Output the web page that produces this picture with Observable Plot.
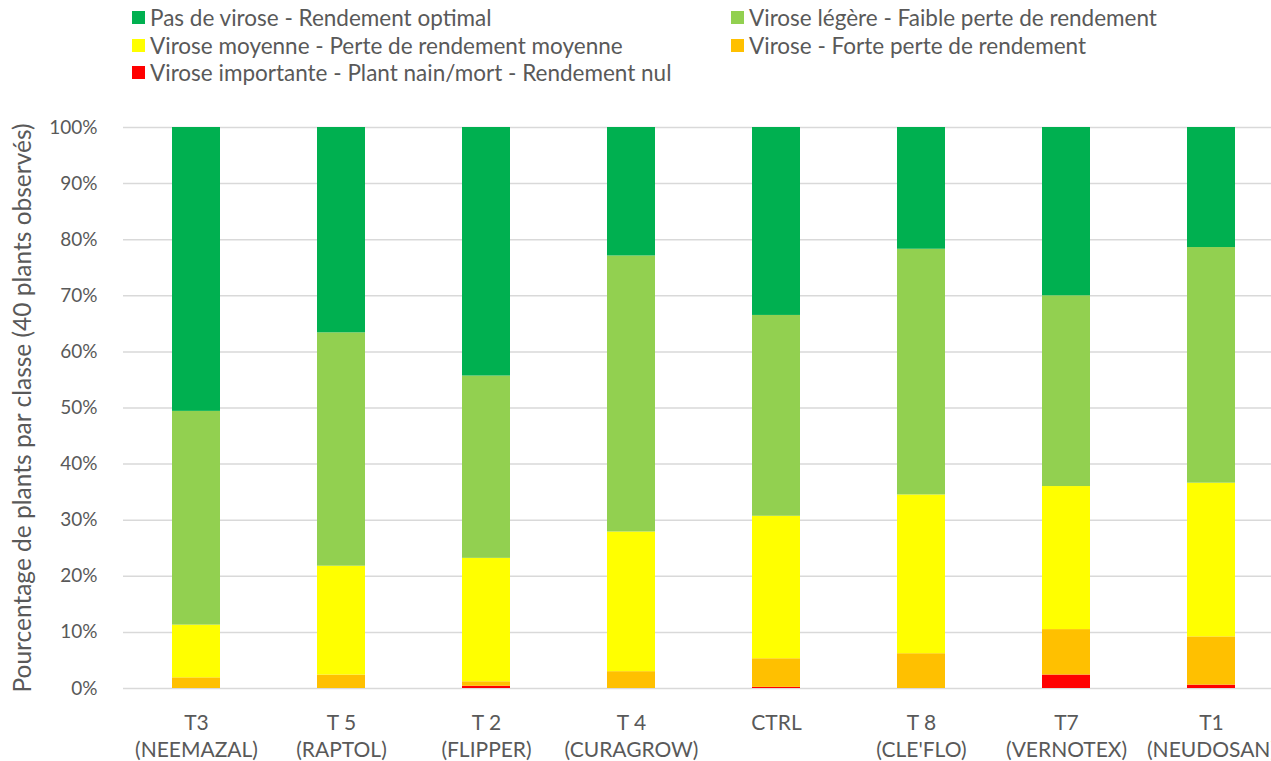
<!DOCTYPE html>
<html>
<head>
<meta charset="utf-8">
<script src="https://cdn.jsdelivr.net/npm/d3@7"></script>
<script src="https://cdn.jsdelivr.net/npm/@observablehq/plot@0.6"></script>
<style>
  html, body { margin: 0; padding: 0; background: #fff; overflow: hidden; width: 1271px; height: 761px; }
  #legend { position: relative; height: 95px; font-family: Lato, "Open Sans", sans-serif; font-size: 22.5px; color: #595959; }
  .item { position: absolute; display: flex; align-items: center; white-space: nowrap; }
  .sw { width: 13px; height: 13px; margin-right: 5px; }
  #chart svg { display: block; font-family: Lato, "Open Sans", sans-serif; overflow: visible; }
</style>
</head>
<body>
<div id="legend"></div>
<div id="chart"></div>
<script>
// Categories (x axis)
const categories = [
  "T3\n(NEEMAZAL)", "T 5\n(RAPTOL)", "T 2\n(FLIPPER)", "T 4\n(CURAGROW)",
  "CTRL", "T 8\n(CLE'FLO)", "T7\n(VERNOTEX)", "T1\n(NEUDOSAN)"
];
// Series names (bottom to top of stack)
const seriesNames = [
  "Virose importante - Plant nain/mort - Rendement nul",
  "Virose - Forte perte de rendement",
  "Virose moyenne - Perte de rendement moyenne",
  "Virose légère - Faible perte de rendement",
  "Pas de virose - Rendement optimal"
];
const seriesColors = ["#FF0000", "#FFC000", "#FFFF00", "#92D050", "#00B050"];
// Values in percent of plants
const importante = [0, 0, 0.4, 0, 0.2, 0, 2.4, 0.6];
const forte      = [1.9, 2.4, 0.8, 3.0, 5.1, 6.2, 8.1, 8.6];
const moyenne    = [9.4, 19.4, 22.0, 24.9, 25.4, 28.3, 25.5, 27.4];
const legere     = [38.1, 41.6, 32.5, 49.2, 35.8, 43.8, 34.0, 42.0];
const aucune     = [50.6, 36.6, 44.3, 22.9, 33.5, 21.7, 30.0, 21.4];
const yTicks = [0, 10, 20, 30, 40, 50, 60, 70, 80, 90, 100];
const yTitle = "Pourcentage de plants par classe (40 plants observés)";

const seriesValues = [importante, forte, moyenne, legere, aucune];
const data = [];
seriesNames.forEach((s, si) => {
  categories.forEach((c, ci) => {
    data.push({cat: c, series: s, value: seriesValues[si][ci]});
  });
});

// Legend (HTML, above SVG)
const legendOrder = [
  [4, 132, 18], [3, 731, 18],
  [2, 132, 46], [1, 731, 46],
  [0, 132, 73]
];
const legend = document.getElementById("legend");
legendOrder.forEach(([i, x, y]) => {
  const d = document.createElement("div");
  d.className = "item";
  d.style.left = x + "px";
  d.style.top = (y - 14) + "px";
  d.innerHTML = `<div class="sw" style="background:${seriesColors[i]}"></div><span>${seriesNames[i]}</span>`;
  legend.appendChild(d);
});

const chart = Plot.plot({
  width: 1271,
  height: 666,
  marginTop: 32,
  marginBottom: 73,
  marginLeft: 123,
  marginRight: 0,
  style: {fontSize: "20px", color: "#595959", background: "transparent"},
  x: {domain: categories, range: [120, 1286], paddingInner: 0.6706, paddingOuter: 0.3353, label: null},
  y: {domain: [0, 100], label: null},
  color: {domain: seriesNames, range: seriesColors},
  marks: [
    Plot.gridY(yTicks, {stroke: "#d9d9d9", strokeOpacity: 1, strokeWidth: 1.5}),
    Plot.barY(data, {x: "cat", y: "value", fill: "series", order: seriesNames}),
    Plot.axisY(yTicks, {
      tickSize: 0, tickPadding: 26, tickFormat: d => d + "%",
      fontSize: 19, fill: "#595959", label: null
    }),
    Plot.text([yTitle], {
      frameAnchor: "left", text: d => d, rotate: -90, dx: -100,
      fontSize: 24.5, fill: "#595959", textAnchor: "middle"
    }),
    Plot.axisX({tickSize: 0, tickPadding: 22, fontSize: 21, fill: "#595959", lineHeight: 1.3, label: null})
  ]
});
document.getElementById("chart").appendChild(chart);
</script>
</body>
</html>
